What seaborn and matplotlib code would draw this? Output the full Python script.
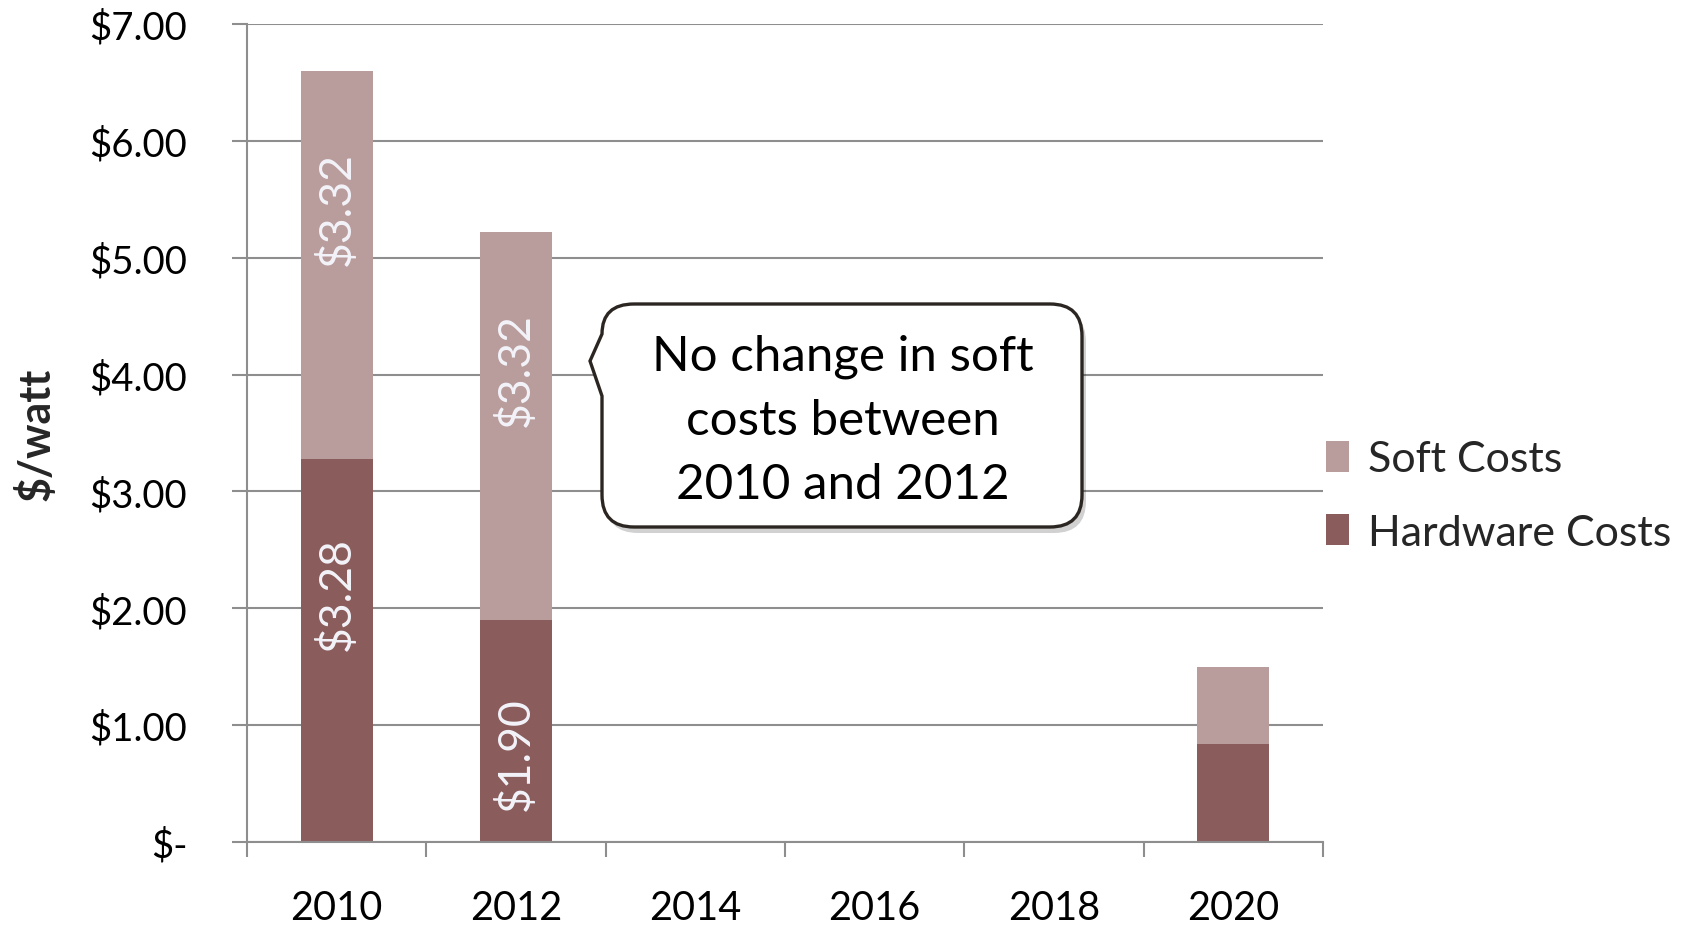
import numpy as np
import pandas as pd
import seaborn as sns
import matplotlib
matplotlib.use("Agg")
import matplotlib.pyplot as plt
from matplotlib.path import Path
from matplotlib.patches import PathPatch, Patch
from matplotlib.ticker import FuncFormatter

# ---- data ($/watt) ----
years = ["2010", "2012", "2014", "2016", "2018", "2020"]
data_years = ["2010", "2012", "2020"]
hardware = [3.28, 1.90, 0.84]
soft = [3.32, 3.32, 0.66]
labelled_years = ["2010", "2012"]
series_names = ["Soft Costs", "Hardware Costs"]

HW_COLOR = "#8A5C5C"
SOFT_COLOR = "#B99C9C"
GRID = "#8E8E8E"
LABEL_WHITE = "#F3F3FA"

df = pd.DataFrame({"year": data_years, "hardware": hardware, "soft": soft})
df["total"] = df["hardware"] + df["soft"]

sns.set_theme(style="white")
plt.rcParams["font.family"] = ["Lato", "DejaVu Sans"]

W, H = 1683, 928
fig = plt.figure(figsize=(W / 100, H / 100), dpi=100)
ax = fig.add_axes([247 / W, 1 - 843 / H, (1323 - 247) / W, (843 - 25) / H])

# stacked bars: totals in the soft colour, hardware drawn over them
sns.barplot(data=df, x="year", y="total", order=years, color=SOFT_COLOR,
            width=0.4, saturation=1, errorbar=None, ax=ax, linewidth=0)
sns.barplot(data=df, x="year", y="hardware", order=years, color=HW_COLOR,
            width=0.4, saturation=1, errorbar=None, ax=ax, linewidth=0)

ax.set_ylim(0, 7)
ax.set_xlim(-0.5, len(years) - 0.5)
ax.set_yticks(np.arange(0, 8, 1))
ax.yaxis.set_major_formatter(FuncFormatter(lambda v, p: "$-" if v == 0 else f"${v:.2f}"))
ax.yaxis.grid(True, color=GRID, linewidth=1.5)
ax.set_axisbelow(True)
for s in ["top", "right"]:
    ax.spines[s].set_visible(False)
for s in ["left", "bottom"]:
    ax.spines[s].set_color(GRID)
    ax.spines[s].set_linewidth(1.5)

ax.tick_params(axis="y", which="major", length=11, width=1.5, color=GRID,
               pad=32, labelsize=27.5, labelcolor="black", left=True)
ax.set_xticks(range(len(years)))
ax.set_xticklabels(years)
ax.set_xticks(np.arange(-0.5, len(years), 1), minor=True)
ax.tick_params(axis="x", which="major", length=0, pad=34, labelsize=28.5, labelcolor="black")
ax.tick_params(axis="x", which="minor", length=11, width=1.5, color=GRID, bottom=True)
ax.set_xlabel("")
ax.set_ylabel("$/watt", fontsize=31, fontweight="bold", labelpad=24)

# value labels inside the 2010 and 2012 segments
label_len = 1.0
for yr in labelled_years:
    i = years.index(yr)
    row = df[df["year"] == yr].iloc[0]
    segs = [(0.0, row["hardware"]), (row["hardware"], row["soft"])]
    for base, val in segs:
        mid = base + val / 2
        if mid + label_len <= base + val:
            ax.text(i, mid, f"${val:.2f}", rotation=90, rotation_mode="anchor",
                    ha="left", va="center", color=LABEL_WHITE, fontsize=32)
        else:
            ax.text(i, base + val * 0.4, f"${val:.2f}", rotation=90, rotation_mode="anchor",
                    ha="center", va="center", color=LABEL_WHITE, fontsize=32)

# legend
handles = [Patch(facecolor=SOFT_COLOR, edgecolor="none"),
           Patch(facecolor=HW_COLOR, edgecolor="none")]
fig.legend(handles, series_names, loc="center left",
           bbox_to_anchor=(1287 / W, 1 - 497 / H), frameon=False,
           fontsize=31, handlelength=0.55, handleheight=0.75,
           handletextpad=0.42, labelspacing=0.82)

# speech-bubble callout (figure pixel coordinates, origin top-left)
def bubble_path(x0, y0, x1, y1, r, tip, n_top, n_bot):
    def P(x, y):
        return (x / W, 1 - y / H)
    verts, codes = [], []
    def move(x, y):
        verts.append(P(x, y)); codes.append(Path.MOVETO)
    def line(x, y):
        verts.append(P(x, y)); codes.append(Path.LINETO)
    def curve(cx, cy, x, y):
        verts.extend([P(cx, cy), P(x, y)]); codes.extend([Path.CURVE3, Path.CURVE3])
    move(x0 + r, y0)
    line(x1 - r, y0)
    curve(x1, y0, x1, y0 + r)
    line(x1, y1 - r)
    curve(x1, y1, x1 - r, y1)
    line(x0 + r, y1)
    curve(x0, y1, x0, y1 - r)
    line(x0, n_bot)
    line(*tip)
    line(x0, n_top)
    curve(x0, y0, x0 + r, y0)
    verts.append(P(x0 + r, y0)); codes.append(Path.CLOSEPOLY)
    return Path(verts, codes)

bx0, by0, bx1, by1 = 602, 305, 1082, 528
shadow = bubble_path(bx0 + 4, by0 + 6, bx1 + 4, by1 + 6, 32, (594, 368), 341, 403)
fig.patches.append(PathPatch(shadow, transform=fig.transFigure, facecolor="#000000",
                             alpha=0.18, edgecolor="none", zorder=5))
bubble = bubble_path(bx0, by0, bx1, by1, 32, (590, 362), 335, 397)
fig.patches.append(PathPatch(bubble, transform=fig.transFigure, facecolor="white",
                             edgecolor="#2B2622", linewidth=2.4, zorder=6))
fig.text(843 / W, 1 - 421 / H, "No change in soft\ncosts between\n2010 and 2012",
         ha="center", va="center", fontsize=35.5, linespacing=1.55, color="black", zorder=7)

fig.savefig("out.png", dpi=100)
